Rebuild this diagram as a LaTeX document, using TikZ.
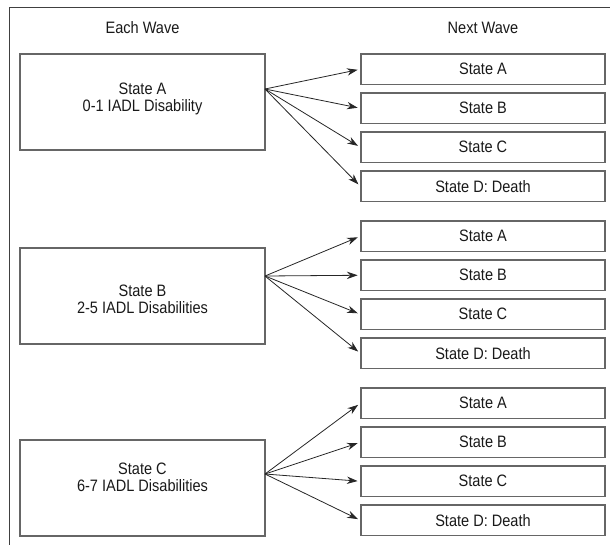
\documentclass[tikz,border=0pt]{standalone}
\usepackage{fontspec}
\setmainfont{Liberation Sans}[FakeStretch=0.88]
\usetikzlibrary{arrows.meta}
\begin{document}
\begin{tikzpicture}[x=0.75pt,y=-0.75pt,
  every node/.style={font=\fontsize{12.4pt}{13pt}\selectfont, text=black!90},
  leftbox/.style={draw=black!60, line width=1.1pt, minimum width=183.75pt, minimum height=72pt, inner sep=0pt},
  lbl/.style={align=center, inner sep=0pt},
  rightbox/.style={draw=black!60, line width=1.1pt, minimum width=183pt, minimum height=22.9pt, inner sep=0pt},
  arr/.style={draw=black!85, line width=0.6pt, -{Stealth[length=8pt,width=5.5pt]}, shorten >=2pt},
  frame/.style={draw=black!75, line width=1.4pt}]
\useasboundingbox (0,0) rectangle (610,544);
\draw[frame] (9.5,546) -- (9.5,7.5) -- (612,7.5);
\node (h1) at (142.5,28) {Each Wave};
\node (h2) at (483,28) {Next Wave};
% left boxes
\node[leftbox] (la) at (142.5,102) {};
\node[leftbox] (lb) at (142.5,296) {};
\node[leftbox] (lc) at (142.5,488) {};
\node[lbl] (ta) at (142.5,99) {State A\\0-1 IADL Disability};
\node[lbl] (tb) at (142.5,299) {State B\\2-5 IADL Disabilities};
\node[lbl] (tc) at (142.5,477) {State C\\6-7 IADL Disabilities};
\coordinate (oa) at (265,89);
\coordinate (ob) at (265,276);
\coordinate (oc) at (265,474);
% right boxes
\foreach \g/\o in {0/a,1/b,2/c}{
  \node[rightbox] (\o1) at (483,{69.25+167*\g}) {State A};
  \node[rightbox] (\o2) at (483,{108.25+167*\g}) {State B};
  \node[rightbox] (\o3) at (483,{147.25+167*\g}) {State C};
  \node[rightbox] (\o4) at (483,{186.25+167*\g}) {State D: Death};
  \foreach \k in {1,...,4}{
    \draw[arr] (o\o) -- (\o\k.west);
  }
}
\end{tikzpicture}
\end{document}
